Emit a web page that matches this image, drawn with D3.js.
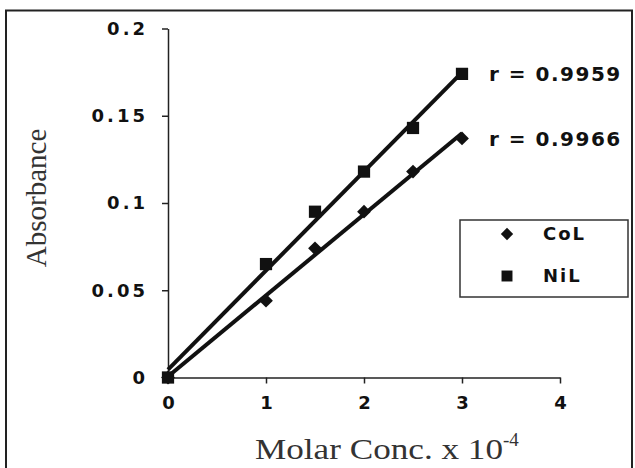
<!DOCTYPE html>
<html>
<head>
<meta charset="utf-8">
<script src="https://cdn.jsdelivr.net/npm/d3@7"></script>
<style>
  body { margin: 0; background: #fff; }
  .tick-label { font-family: "DejaVu Sans", sans-serif; font-weight: bold; font-size: 18px; letter-spacing: 3px; fill: #111; }
  .axis-title { font-family: "Liberation Serif", serif; fill: #333; }
  .r-label { font-family: "DejaVu Sans", sans-serif; font-weight: bold; font-size: 20px; letter-spacing: 1.5px; fill: #111; }
  .legend-text { font-family: "DejaVu Sans", sans-serif; font-weight: bold; font-size: 18px; letter-spacing: 2px; fill: #111; }
</style>
</head>
<body>
<svg id="chart" width="635" height="468"></svg>
<script>
// Data
const conc = [0, 1, 1.5, 2, 2.5, 3];
const colAbs = [0, 0.044, 0.074, 0.095, 0.118, 0.137];
const nilAbs = [0, 0.065, 0.095, 0.118, 0.143, 0.174];
const seriesNames = ['CoL', 'NiL'];
const rValues = ['0.9966', '0.9959'];
const xTicks = [0, 1, 2, 3, 4];
const yTicks = [0, 0.05, 0.1, 0.15, 0.2];

const margin = { left: 168, top: 28.5 };
const width = 392;
const height = 349;

const svg = d3.select('#chart');

// outer frame
svg.append('rect')
  .attr('x', 6).attr('y', 10.5)
  .attr('width', 626).attr('height', 470)
  .attr('fill', 'none')
  .attr('stroke', '#222')
  .attr('stroke-width', 2);

const g = svg.append('g')
  .attr('transform', 'translate(' + margin.left + ',' + margin.top + ')');

const xScale = d3.scaleLinear().domain([0, 4]).range([0, width]);
const yScale = d3.scaleLinear().domain([0, 0.2]).range([height, 0]);

/**
 * Least squares fit of a series
 * @param {number[]} xs x values
 * @param {number[]} ys y values
 * @returns {object} slope and intercept
 */
function fit(xs, ys) {
  const mx = d3.mean(xs);
  const my = d3.mean(ys);
  const sxy = d3.sum(xs, (x, i) => (x - mx) * (ys[i] - my));
  const sxx = d3.sum(xs, (x) => (x - mx) * (x - mx));
  const slope = sxy / sxx;
  return { slope: slope, intercept: my - slope * mx };
}

// Axes
const xAxis = g.append('g')
  .attr('transform', 'translate(0,' + height + ')')
  .call(d3.axisBottom(xScale).tickValues(xTicks).tickSize(6).tickSizeOuter(0).tickPadding(13)
    .tickFormat(d3.format('d')));
const yAxis = g.append('g')
  .call(d3.axisLeft(yScale).tickValues(yTicks).tickSize(6).tickSizeOuter(0).tickPadding(14)
    .tickFormat((d) => (d === 0 ? '0' : String(+d.toFixed(2)))));

[xAxis, yAxis].forEach((ax) => {
  ax.attr('font-size', null).attr('font-family', null);
  ax.select('.domain').attr('stroke', '#222').attr('stroke-width', 1.5);
  ax.selectAll('.tick line').attr('stroke', '#222').attr('stroke-width', 1.5);
  ax.selectAll('.tick text').attr('class', 'tick-label');
});
xAxis.selectAll('.tick text').attr('dx', '1.5px');

// Axis titles
const xTitle = svg.append('text')
  .attr('class', 'axis-title')
  .attr('x', 255)
  .attr('y', 459)
  .attr('font-size', 29);
xTitle.append('tspan')
  .attr('textLength', 248)
  .attr('lengthAdjust', 'spacingAndGlyphs')
  .text('Molar Conc. x 10');
xTitle.append('tspan')
  .attr('dy', -13)
  .attr('font-size', 19)
  .text('-4');

svg.append('text')
  .attr('class', 'axis-title')
  .attr('font-size', 29)
  .attr('text-anchor', 'middle')
  .attr('transform', 'translate(46,198) rotate(-90)')
  .text('Absorbance');

// Series
const series = [
  { name: seriesNames[0], values: colAbs, r: rValues[0], symbol: d3.symbolSquare, size: 95, rotate: 45 },
  { name: seriesNames[1], values: nilAbs, r: rValues[1], symbol: d3.symbolSquare, size: 150, rotate: 0 },
];

series.forEach((s) => {
  const f = fit(conc, s.values);
  const x0 = conc[0];
  const x1 = conc[conc.length - 1];
  g.append('line')
    .attr('x1', xScale(x0)).attr('y1', yScale(f.intercept + f.slope * x0))
    .attr('x2', xScale(x1)).attr('y2', yScale(f.intercept + f.slope * x1))
    .attr('stroke', '#111')
    .attr('stroke-width', 4);

  g.append('g')
    .selectAll('path')
    .data(s.values)
    .enter()
    .append('path')
    .attr('d', d3.symbol().type(s.symbol).size(s.size))
    .attr('transform', (d, i) =>
      'translate(' + xScale(conc[i]) + ',' + yScale(d) + ') rotate(' + s.rotate + ')')
    .attr('fill', '#111');

  const last = s.values.length - 1;
  g.append('text')
    .attr('class', 'r-label')
    .attr('x', xScale(conc[last]) + 27)
    .attr('y', yScale(s.values[last]))
    .attr('dy', '0.36em')
    .text('r = ' + s.r);
});

// Legend
const legend = svg.append('g').attr('transform', 'translate(460,220)');
legend.append('rect')
  .attr('width', 168).attr('height', 77)
  .attr('fill', '#fff')
  .attr('stroke', '#333')
  .attr('stroke-width', 1.5);
series.forEach((s, i) => {
  const ly = 14 + i * 42;
  legend.append('path')
    .attr('d', d3.symbol().type(s.symbol).size(s.size * 0.8))
    .attr('transform', 'translate(47,' + ly + ') rotate(' + s.rotate + ')')
    .attr('fill', '#111');
  legend.append('text')
    .attr('class', 'legend-text')
    .attr('x', 83)
    .attr('y', ly)
    .attr('dy', '0.36em')
    .text(s.name);
});
</script>
</body>
</html>
